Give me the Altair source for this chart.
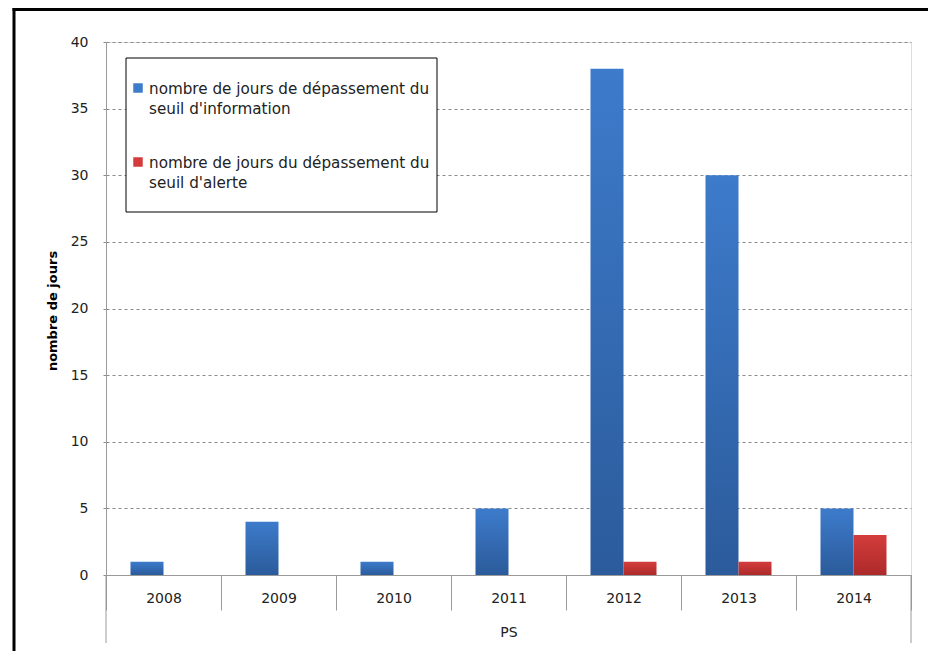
import altair as alt
import pandas as pd

# ---- data ----
years = ["2008", "2009", "2010", "2011", "2012", "2013", "2014"]
jours_information = [1, 4, 1, 5, 38, 30, 5]
jours_alerte = [0, 0, 0, 0, 1, 1, 3]
series_keys = ["info", "alerte"]
legend_info = ["nombre de jours de dépassement du", "seuil d'information"]
legend_alerte = ["nombre de jours du dépassement du", "seuil d'alerte"]
y_ticks = [0, 5, 10, 15, 20, 25, 30, 35, 40]
x_title = "PS"
y_title = "nombre de jours"

BLUE_TOP, BLUE_BOT = "#3d7bcb", "#2b5b9b"
RED_TOP, RED_BOT = "#d43c3c", "#ad2a2a"
FONT = "DejaVu Sans"

W, H = 805, 533

rows = []
for y, a, b in zip(years, jours_information, jours_alerte):
    rows.append({"year": y, "serie": "info", "value": a})
    rows.append({"year": y, "serie": "alerte", "value": b})
df = pd.DataFrame(rows)
one = pd.DataFrame({"k": [0]})

x_enc = alt.X(
    "year:N",
    scale=alt.Scale(domain=years, paddingInner=0, paddingOuter=0),
    axis=alt.Axis(
        title=x_title, labelAngle=0, tickBand="extent", tickSize=35,
        tickColor="#9a9a9a", domainColor="#9a9a9a", labelFontSize=14,
        labelFont=FONT, labelColor="#222222", labelPadding=-19,
        titleFont=FONT, titleFontSize=14, titleFontWeight="normal",
        titleColor="#222222", titleY=50, titleBaseline="top",
    ),
)
y_enc = alt.Y(
    "value:Q",
    scale=alt.Scale(domain=[0, 40], nice=False, zero=True),
    axis=alt.Axis(
        values=y_ticks, title=y_title, grid=True, gridDash=[3, 3],
        gridColor="#8a8a8a", domainColor="#9a9a9a", tickColor="#8a8a8a",
        tickSize=6, tickDash=[3, 3], labelFontSize=14, labelFont=FONT,
        labelColor="#222222", labelPadding=12, titleFont=FONT,
        titleFontSize=13, titleFontWeight="bold", titleColor="#000000",
        titleX=-54, titleY=H / 2 + 2, titleBaseline="middle", titleAlign="center",
    ),
)
xoff = alt.XOffset("serie:N", scale=alt.Scale(domain=series_keys, paddingInner=0, paddingOuter=0.742))


def grad(top, bot):
    return {"gradient": "linear", "x1": 0, "y1": 0, "x2": 0, "y2": 1,
            "stops": [{"offset": 0, "color": top}, {"offset": 1, "color": bot}]}


bars_info = alt.Chart(df).transform_filter(
    (alt.datum.serie == "info") & (alt.datum.value > 0)
).mark_bar(fill=grad(BLUE_TOP, BLUE_BOT)).encode(x=x_enc, y=y_enc, xOffset=xoff)

bars_alerte = alt.Chart(df).transform_filter(
    (alt.datum.serie == "alerte") & (alt.datum.value > 0)
).mark_bar(fill=grad(RED_TOP, RED_BOT)).encode(x=x_enc, y=y_enc, xOffset=xoff)

# outer frame of the figure (left and top edges only are visible)
frame_top = alt.Chart(one).mark_rule(color="#000000", strokeWidth=3).encode(
    x=alt.value(-93.5), x2=alt.value(W + 40), y=alt.value(-32.5))
frame_left = alt.Chart(one).mark_rule(color="#000000", strokeWidth=3).encode(
    x=alt.value(-92), y=alt.value(-34), y2=alt.value(H + 120))

# category separator extensions at both ends
ext_left = alt.Chart(one).mark_rule(color="#9a9a9a").encode(
    x=alt.value(0), y=alt.value(H), y2=alt.value(H + 68))
ext_right = alt.Chart(one).mark_rule(color="#9a9a9a").encode(
    x=alt.value(W), y=alt.value(H), y2=alt.value(H + 68))

# legend
leg_box = alt.Chart(one).mark_rect(fill="white", stroke="#000000", strokeWidth=1).encode(
    x=alt.value(20), x2=alt.value(331), y=alt.value(16), y2=alt.value(170))
leg_sq1 = alt.Chart(one).mark_square(size=90, color=BLUE_TOP, opacity=1).encode(
    x=alt.value(32), y=alt.value(46))
leg_sq2 = alt.Chart(one).mark_square(size=90, color=RED_TOP, opacity=1).encode(
    x=alt.value(32), y=alt.value(120))
leg_t1 = alt.Chart(one).mark_text(align="left", baseline="top", font=FONT, fontSize=15.2,
                                  lineHeight=20, color="#222222").encode(
    x=alt.value(43), y=alt.value(40), text=alt.value(legend_info))
leg_t2 = alt.Chart(one).mark_text(align="left", baseline="top", font=FONT, fontSize=15.2,
                                  lineHeight=20, color="#222222").encode(
    x=alt.value(43), y=alt.value(114), text=alt.value(legend_alerte))

chart = alt.layer(
    frame_top, frame_left, bars_info, bars_alerte, ext_left, ext_right,
    leg_box, leg_sq1, leg_sq2, leg_t1, leg_t2
).properties(
    width=W, height=H,
    padding={"left": 98, "top": 34, "right": 17, "bottom": 76},
    autosize=alt.AutoSizeParams(type="none"),
).configure_view(strokeWidth=0).configure(background="white")

chart.save("out.html", embed_options={"renderer": "svg", "actions": False})
